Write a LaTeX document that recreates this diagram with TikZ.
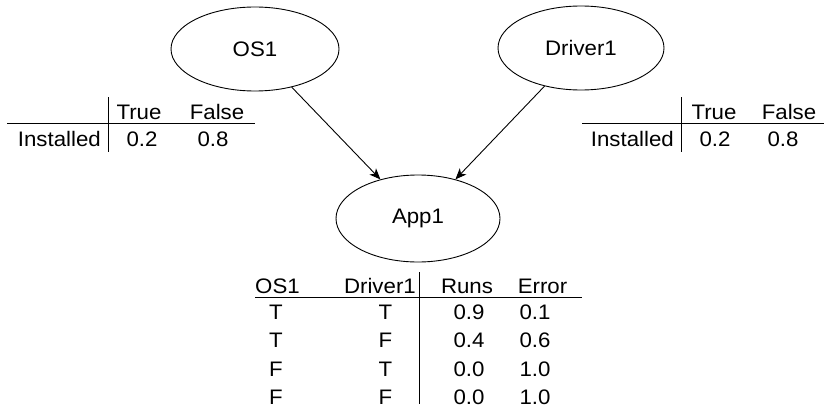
\documentclass[tikz,border=0pt]{standalone}
\usepackage{fontspec}
\setmainfont{Liberation Sans}[FakeStretch=1.06]
\usetikzlibrary{shapes.geometric,arrows.meta}
\begin{document}
\begin{tikzpicture}[x=1pt,y=-1pt,
  every node/.style={font=\fontsize{21pt}{24pt}\selectfont},
  var/.style={ellipse,draw,line width=0.9pt,inner sep=0pt},
  cell/.style={inner sep=0pt,text height=15pt,text depth=0pt},
  rule/.style={line width=0.9pt},
  edge/.style={line width=0.9pt,-{Stealth[length=11pt,width=9pt,inset=3pt]}}]
\useasboundingbox (0,0) rectangle (824,404);
% variables
\node[var,minimum width=168pt,minimum height=84pt] (os) at (255,49) {OS1};
\node[var,minimum width=166pt,minimum height=84pt] (drv) at (581,48) {Driver1};
\node[var,minimum width=164pt,minimum height=87pt] (app) at (418,218.5) {App1};
\draw[edge] (os) -- (app);
\draw[edge] (drv) -- (app);
% left table
\draw[rule] (108,97) -- (108,152);
\draw[rule] (7,123.5) -- (255,123.5);
\node[cell,anchor=east] (li) at (101,138.5) {Installed};
\node[cell] (lt) at (139,111.5) {True};
\node[cell] (lf) at (217,111.5) {False};
\node[cell] (lt2) at (142,138.5) {0.2};
\node[cell] (lf2) at (213,138.5) {0.8};
% right table
\draw[rule] (681,97) -- (681,152);
\draw[rule] (582,123.5) -- (824,123.5);
\node[cell,anchor=east] (ri) at (674,138.5) {Installed};
\node[cell] (rt) at (714,111.5) {True};
\node[cell] (rf) at (789,111.5) {False};
\node[cell] (rt2) at (715,138.5) {0.2};
\node[cell] (rf2) at (783,138.5) {0.8};
% bottom table
\draw[rule] (419,272) -- (419,404);
\draw[rule] (255,297.5) -- (582,297.5);
\node[cell,anchor=west] (h1) at (255,285.5) {OS1};
\node[cell,anchor=east] (h2) at (416,285.5) {Driver1};
\node[cell] (h3) at (467,285.5) {Runs};
\node[cell] (h4) at (542.5,285.5) {Error};
\foreach \y/\a/\b/\c/\d/\n in {311.5/T/T/0.9/0.1/1,340/T/F/0.4/0.6/2,368.5/F/T/0.0/1.0/3,397/F/F/0.0/1.0/4}{
  \node[cell] (a\n) at (276,\y) {\a};
  \node[cell] (b\n) at (385.5,\y) {\b};
  \node[cell] (c\n) at (469,\y) {\c};
  \node[cell] (d\n) at (535,\y) {\d};
}
\end{tikzpicture}
\end{document}
